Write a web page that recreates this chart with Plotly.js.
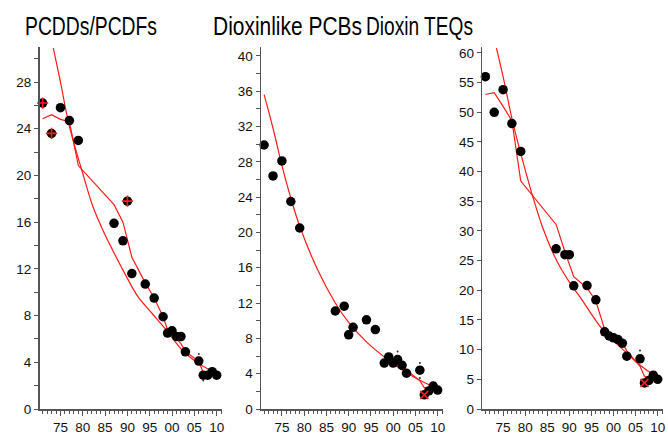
<!DOCTYPE html>
<html>
<head>
<meta charset="utf-8">
<script src="https://cdn.plot.ly/plotly-3.0.1.min.js"></script>
<style>html,body{margin:0;padding:0;background:#fff;}#chart{width:668px;height:434px;}</style>
</head>
<body>
<div id="chart"></div>
<script>
// ---- data ----
const years = [1971,1973,1975,1977,1979,1987,1989,1990,1991,1994,1996,1998,1999,2000,2001,2002,2003,2006,2007,2008,2009,2010];

const pcdd = [26.2,23.6,25.8,24.7,23.0,15.9,14.4,17.8,11.6,10.7,9.5,7.9,6.5,6.7,6.2,6.2,4.9,4.1,2.9,2.9,3.2,2.9];
const pcb  = [29.9,26.4,28.1,23.5,20.5,11.1,11.65,8.4,9.25,10.1,9.0,5.2,5.9,5.2,5.6,4.95,4.05,4.4,1.6,2.05,2.6,2.15];
const teq  = [56.0,50.0,53.8,48.1,43.4,27.0,26.0,26.0,20.75,20.8,18.4,13.0,12.3,12.0,11.7,11.1,8.9,8.45,4.4,4.8,5.7,5.0];

// flagged points
const pcddPlusYears = [1971,1973,1990];
const pcddPlusVals  = [26.2,23.6,17.8];
const pcbXYears = [2007];
const pcbXVals  = [1.6];
const teqXYears = [2007];
const teqXVals  = [4.4];

// small dots
const pcddDotYears = [2006,2007];
const pcddDotVals  = [4.7,2.45];
const pcbDotYears = [2001,2006,2006];
const pcbDotVals  = [6.5,5.2,3.5];
const teqDotYears = [2006];
const teqDotVals  = [9.85];

// smooth fitted curves
const fitYears1 = [1973.4,1975,1977,1979.9,1982.2,1984.4,1986.7,1989.7,1992.4,1995.5,1998.4,2002.6,2006,2008.6,2010];
const fit1      = [30.9,28.0,24.2,20.3,17.4,15.4,13.6,11.4,9.6,8.2,6.9,4.9,3.9,3.3,2.9];
const fitYears2 = [1971,1973,1975,1977,1979,1983,1987,1990,1994,1998,2003,2007,2010];
const fit2      = [35.6,31.8,27.6,23.9,20.7,15.8,12.0,9.8,7.6,5.9,4.1,3.0,2.4];
const fitYears3 = [1973.5,1975,1977.3,1979.9,1981.8,1984,1986.3,1988,1990.8,1992.4,1995,1997.2,2000,2002.9,2005,2007.4,2010];
const fit3      = [60.8,56.0,48.0,40.6,35.6,30.5,26.3,23.8,20.5,18.9,16.0,13.7,11.5,9.5,8.0,6.6,5.4];

// piecewise trend lines (at data years)
const trend1 = [24.85,25.2,24.8,24.6,20.85,17.5,16.0,14.6,13.0,10.8,9.5,7.9,6.8,6.3,6.0,5.6,4.9,4.1,3.1,3.1,3.4,3.3];
const trendYears2 = [2001,2002,2003,2006,2007,2008,2009,2010];
const trend2      = [5.5,5.0,4.4,3.2,2.4,2.4,2.7,2.4];
const trend3 = [53.0,53.3,51.0,48.6,38.4,31.1,26.5,24.5,22.3,20.4,18.2,13.4,12.6,12.2,11.7,11.1,9.8,7.2,5.5,5.3,6.2,5.4];

const xTickVals = [1975,1980,1985,1990,1995,2000,2005,2010];
const xTickText = ['75','80','85','90','95','00','05','10'];

const titles = ['PCDDs/PCDFs','Dioxinlike PCBs','Dioxin TEQs'];

// ---- build ----
const RED = '#ff1a1a';
const traces = [];
function panel(ax, yrs, vals, fy, fv, ty, tv, flagY, flagV, flagSym, dotY, dotV) {
  const xa = 'x' + (ax === 1 ? '' : ax), ya = 'y' + (ax === 1 ? '' : ax);
  traces.push({x: fy, y: fv, xaxis: xa, yaxis: ya, mode: 'lines', line: {color: RED, width: 1.2, shape: 'spline'}, hoverinfo: 'skip'});
  traces.push({x: ty, y: tv, xaxis: xa, yaxis: ya, mode: 'lines', line: {color: RED, width: 1.2}, hoverinfo: 'skip'});
  traces.push({x: yrs, y: vals, xaxis: xa, yaxis: ya, mode: 'markers', marker: {color: '#000', size: 9.5}, cliponaxis: false});
  traces.push({x: flagY, y: flagV, xaxis: xa, yaxis: ya, mode: 'markers', marker: {symbol: flagSym, size: 8, color: RED, line: {color: RED, width: 1.6}}, cliponaxis: false});
  traces.push({x: dotY, y: dotV, xaxis: xa, yaxis: ya, mode: 'markers', marker: {color: '#333', size: 2}});
}
panel(1, years, pcdd, fitYears1, fit1, years, trend1, pcddPlusYears, pcddPlusVals, 'cross-thin', pcddDotYears, pcddDotVals);
panel(2, years, pcb, fitYears2, fit2, trendYears2, trend2, pcbXYears, pcbXVals, 'x-thin', pcbDotYears, pcbDotVals);
panel(3, years, teq, fitYears3, fit3, years, trend3, teqXYears, teqXVals, 'x-thin', teqDotYears, teqDotVals);

const W = 668, H = 434;
const AX = '#555';
const tickFont = {family: 'Liberation Sans, Arial, sans-serif', size: 13.5, color: '#111'};
function xax(l, r, anchor) {
  return {
    domain: [l / W, r / W], anchor: anchor, range: [1970.3, 2011.2],
    showline: true, linecolor: AX, linewidth: 1.5, showgrid: false, zeroline: false,
    tickmode: 'array', tickvals: xTickVals, ticktext: xTickText,
    ticks: 'outside', ticklen: 5, tickwidth: 1, tickcolor: AX, tickfont: tickFont,
    minor: {ticks: 'outside', ticklen: 3.5, tickwidth: 1, tickcolor: AX, tickmode: 'linear', tick0: 1970, dtick: 1, showgrid: false}
  };
}
function yax(top, dtick, minorD, anchor) {
  const a = {
    domain: [25 / H, 387 / H], anchor: anchor, range: [0, top],
    showline: true, linecolor: AX, linewidth: 1.5, showgrid: false, zeroline: false,
    tickmode: 'linear', tick0: 0, dtick: dtick,
    ticks: 'outside', ticklen: 4, tickwidth: 1, tickcolor: AX, tickfont: tickFont
  };
  if (minorD) a.minor = {ticks: 'outside', ticklen: 4, tickwidth: 1, tickcolor: AX, tickmode: 'linear', tick0: 0, dtick: minorD, showgrid: false};
  return a;
}
const titleLeft  = [25, 213, 366];
const titleWidth = [132, 149, 107];
const layout = {
  width: W, height: H, margin: {l: 0, r: 0, t: 0, b: 0},
  paper_bgcolor: '#fff', plot_bgcolor: '#fff', showlegend: false,
  xaxis: xax(39.5, 222, 'y'), yaxis: yax(31, 4, 2, 'x'),
  xaxis2: xax(261, 443, 'y2'), yaxis2: yax(41, 4, 2, 'x2'),
  xaxis3: xax(482.3, 663, 'y3'), yaxis3: yax(61, 5, null, 'x3'),
  annotations: titles.map((t, i) => ({
    text: t, xref: 'paper', yref: 'paper', x: titleLeft[i] / W, y: (H - 26) / H,
    xanchor: 'left', yanchor: 'middle', showarrow: false,
    font: {family: 'Liberation Sans, Arial, sans-serif', size: 26, color: '#000'}
  }))
};
Plotly.newPlot('chart', traces, layout, {staticPlot: true, displayModeBar: false}).then(gd => {
  // condense the title text horizontally (the reference uses a narrow face)
  const texts = gd.querySelectorAll('.annotation-text');
  texts.forEach((el, i) => {
    const bb = el.getBBox();
    const r = el.getBoundingClientRect();
    const off = r.left - bb.x;
    const s = titleWidth[i] / r.width;
    el.setAttribute('transform', `translate(${titleLeft[i] - off},0) scale(${s},1) translate(${-bb.x},0)`);
  });
});
</script>
</body>
</html>
